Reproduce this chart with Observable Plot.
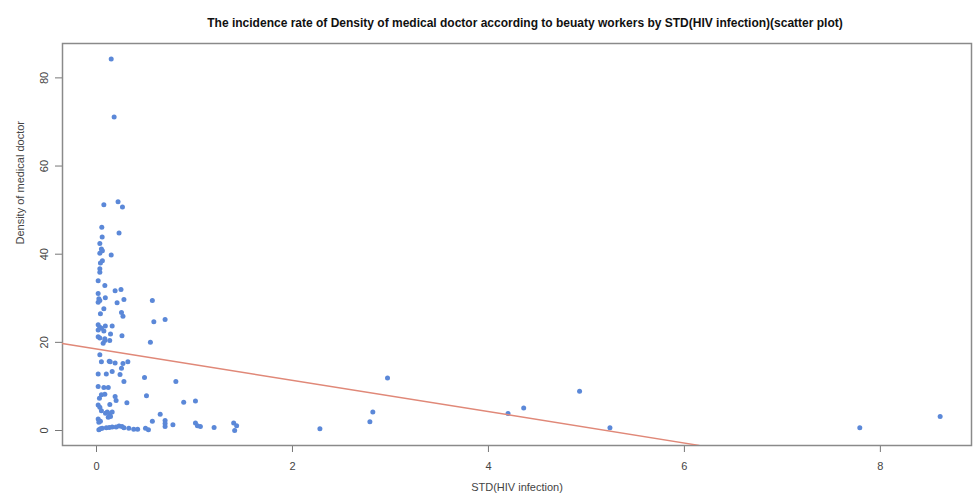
<!DOCTYPE html>
<html>
<head>
<meta charset="utf-8">
<script src="https://cdn.jsdelivr.net/npm/d3@7"></script>
<script src="https://cdn.jsdelivr.net/npm/@observablehq/plot@0.6"></script>
<style>
  html, body { margin: 0; padding: 0; background: #fff; }
  #chart svg { display: block; }
</style>
</head>
<body>
<div id="chart"></div>
<script>
const titleText = "The incidence rate of Density of medical doctor according to beuaty workers by STD(HIV infection)(scatter plot)";
const xLabel = "STD(HIV infection)";
const yLabel = "Density of medical doctor";
const xTicks = [0, 2, 4, 6, 8];
const yTicks = [0, 20, 40, 60, 80];

// STD (HIV infection) values
const hivX = [
  0.15, 0.18, 0.075, 0.22, 0.265, 0.054, 0.23, 0.058, 0.034, 0.05,
  0.06, 0.034, 0.15, 0.06, 0.04, 0.034, 0.034, 0.017, 0.085, 0.19,
  0.25, 0.017, 0.024, 0.017, 0.034, 0.09, 0.28, 0.21, 0.57, 0.075,
  0.255, 0.27, 0.04, 0.585, 0.70, 0.017, 0.034, 0.05, 0.017, 0.09,
  0.16, 0.075, 0.143, 0.017, 0.034, 0.085, 0.085, 0.135, 0.26, 0.068,
  0.55, 0.034, 0.05, 0.13, 0.14, 0.19, 0.27, 0.32, 0.255, 0.017,
  0.10, 0.16, 0.24, 0.49, 0.28, 0.81, 0.017, 0.075, 0.12, 0.05,
  0.085, 0.03, 0.19, 0.20, 0.51, 0.31, 0.136, 0.89, 1.01, 0.017,
  0.034, 0.05, 0.092, 0.11, 0.136, 0.16, 0.12, 0.143, 0.017, 0.04,
  0.024, 0.65, 0.57, 0.70, 0.70, 0.70, 0.78, 1.01, 1.03, 1.06,
  1.20, 1.40, 1.43, 1.41, 2.28, 0.024, 0.058, 0.10, 0.13, 0.16,
  0.20, 0.23, 0.26, 0.28, 0.33, 0.38, 0.42, 0.50, 0.53, 0.04,
  2.79, 2.82, 2.97, 4.20, 4.36, 4.93, 5.24, 7.79, 8.61
];
// Density of medical doctor values
const doctorY = [
  84.3, 71.1, 51.2, 51.9, 50.7, 46.1, 44.8, 43.9, 42.4, 41.2,
  40.8, 40.2, 39.8, 38.5, 38.0, 36.7, 35.9, 34.0, 32.9, 31.7,
  32.0, 31.1, 29.9, 29.1, 29.5, 30.1, 29.7, 29.0, 29.5, 27.6,
  26.8, 25.9, 26.5, 24.7, 25.2, 24.0, 23.4, 23.2, 22.8, 23.7,
  23.7, 22.6, 21.9, 21.3, 21.0, 20.8, 20.4, 20.4, 21.5, 19.8,
  20.0, 17.2, 15.6, 15.7, 15.6, 15.3, 15.2, 15.6, 14.1, 12.8,
  12.8, 13.4, 12.7, 12.0, 11.1, 11.1, 10.0, 9.75, 9.75, 8.1,
  8.2, 7.3, 7.7, 6.8, 7.9, 6.3, 5.9, 6.4, 6.7, 5.8,
  5.3, 4.5, 3.9, 4.2, 3.8, 4.2, 3.0, 3.2, 2.6, 2.1,
  1.9, 3.7, 2.1, 2.3, 1.6, 0.9, 1.3, 1.7, 1.1, 0.9,
  0.7, 1.7, 1.1, 0.0, 0.4, 0.2, 0.5, 0.6, 0.7, 0.8,
  0.8, 1.0, 0.9, 0.6, 0.5, 0.3, 0.3, 0.5, 0.2, 0.4,
  2.0, 4.2, 11.9, 3.85, 5.1, 8.9, 0.6, 0.6, 3.2
];
// Fitted line endpoints
const fitX = [-0.35, 6.15];
const fitY = [19.75, -3.37];

const points = hivX.map((x, i) => ({x, y: doctorY[i]}));
const fit = fitX.map((x, i) => ({x, y: fitY[i]}));

const textColor = "#444";
const font = "'Liberation Sans', Arial, sans-serif";

const chart = Plot.plot({
  width: 973,
  height: 494,
  marginLeft: 62,
  marginRight: 2,
  marginTop: 43,
  marginBottom: 49,
  style: {fontFamily: font, fontSize: "11px", color: textColor, background: "#fff"},
  x: {domain: [-0.347, 8.93], label: null},
  y: {domain: [-3.4, 87.8], label: null},
  marks: [
    Plot.axisX({ticks: xTicks, tickSize: 7, tickPadding: 10, tickFormat: d => String(d), stroke: "#777", fill: textColor, fontSize: 11, label: null}),
    Plot.axisY({ticks: yTicks, tickSize: 7, tickFormat: () => "", stroke: "#777", label: null}),
    Plot.text(yTicks, {y: d => d, text: d => String(d), frameAnchor: "left", dx: -18, rotate: -90, textAnchor: "middle", fill: textColor, fontSize: 11}),
    Plot.frame({stroke: "#8a8a8a", strokeWidth: 1.5}),
    Plot.dot(points, {x: "x", y: "y", r: 2.5, fill: "#5b88d8", stroke: "none"}),
    Plot.line(fit, {x: "x", y: "y", stroke: "#e08878", strokeWidth: 1.5, clip: true}),
    Plot.text([titleText], {frameAnchor: "top", dy: -25, dx: 8, fontWeight: "bold", fontSize: 12, fill: "#111"}),
    Plot.text([xLabel], {frameAnchor: "bottom", dy: 45, fontSize: 11, fill: textColor}),
    Plot.text([yLabel], {frameAnchor: "left", dx: -42, rotate: -90, fontSize: 11, fill: textColor})
  ]
});
document.getElementById("chart").append(chart);
</script>
</body>
</html>
